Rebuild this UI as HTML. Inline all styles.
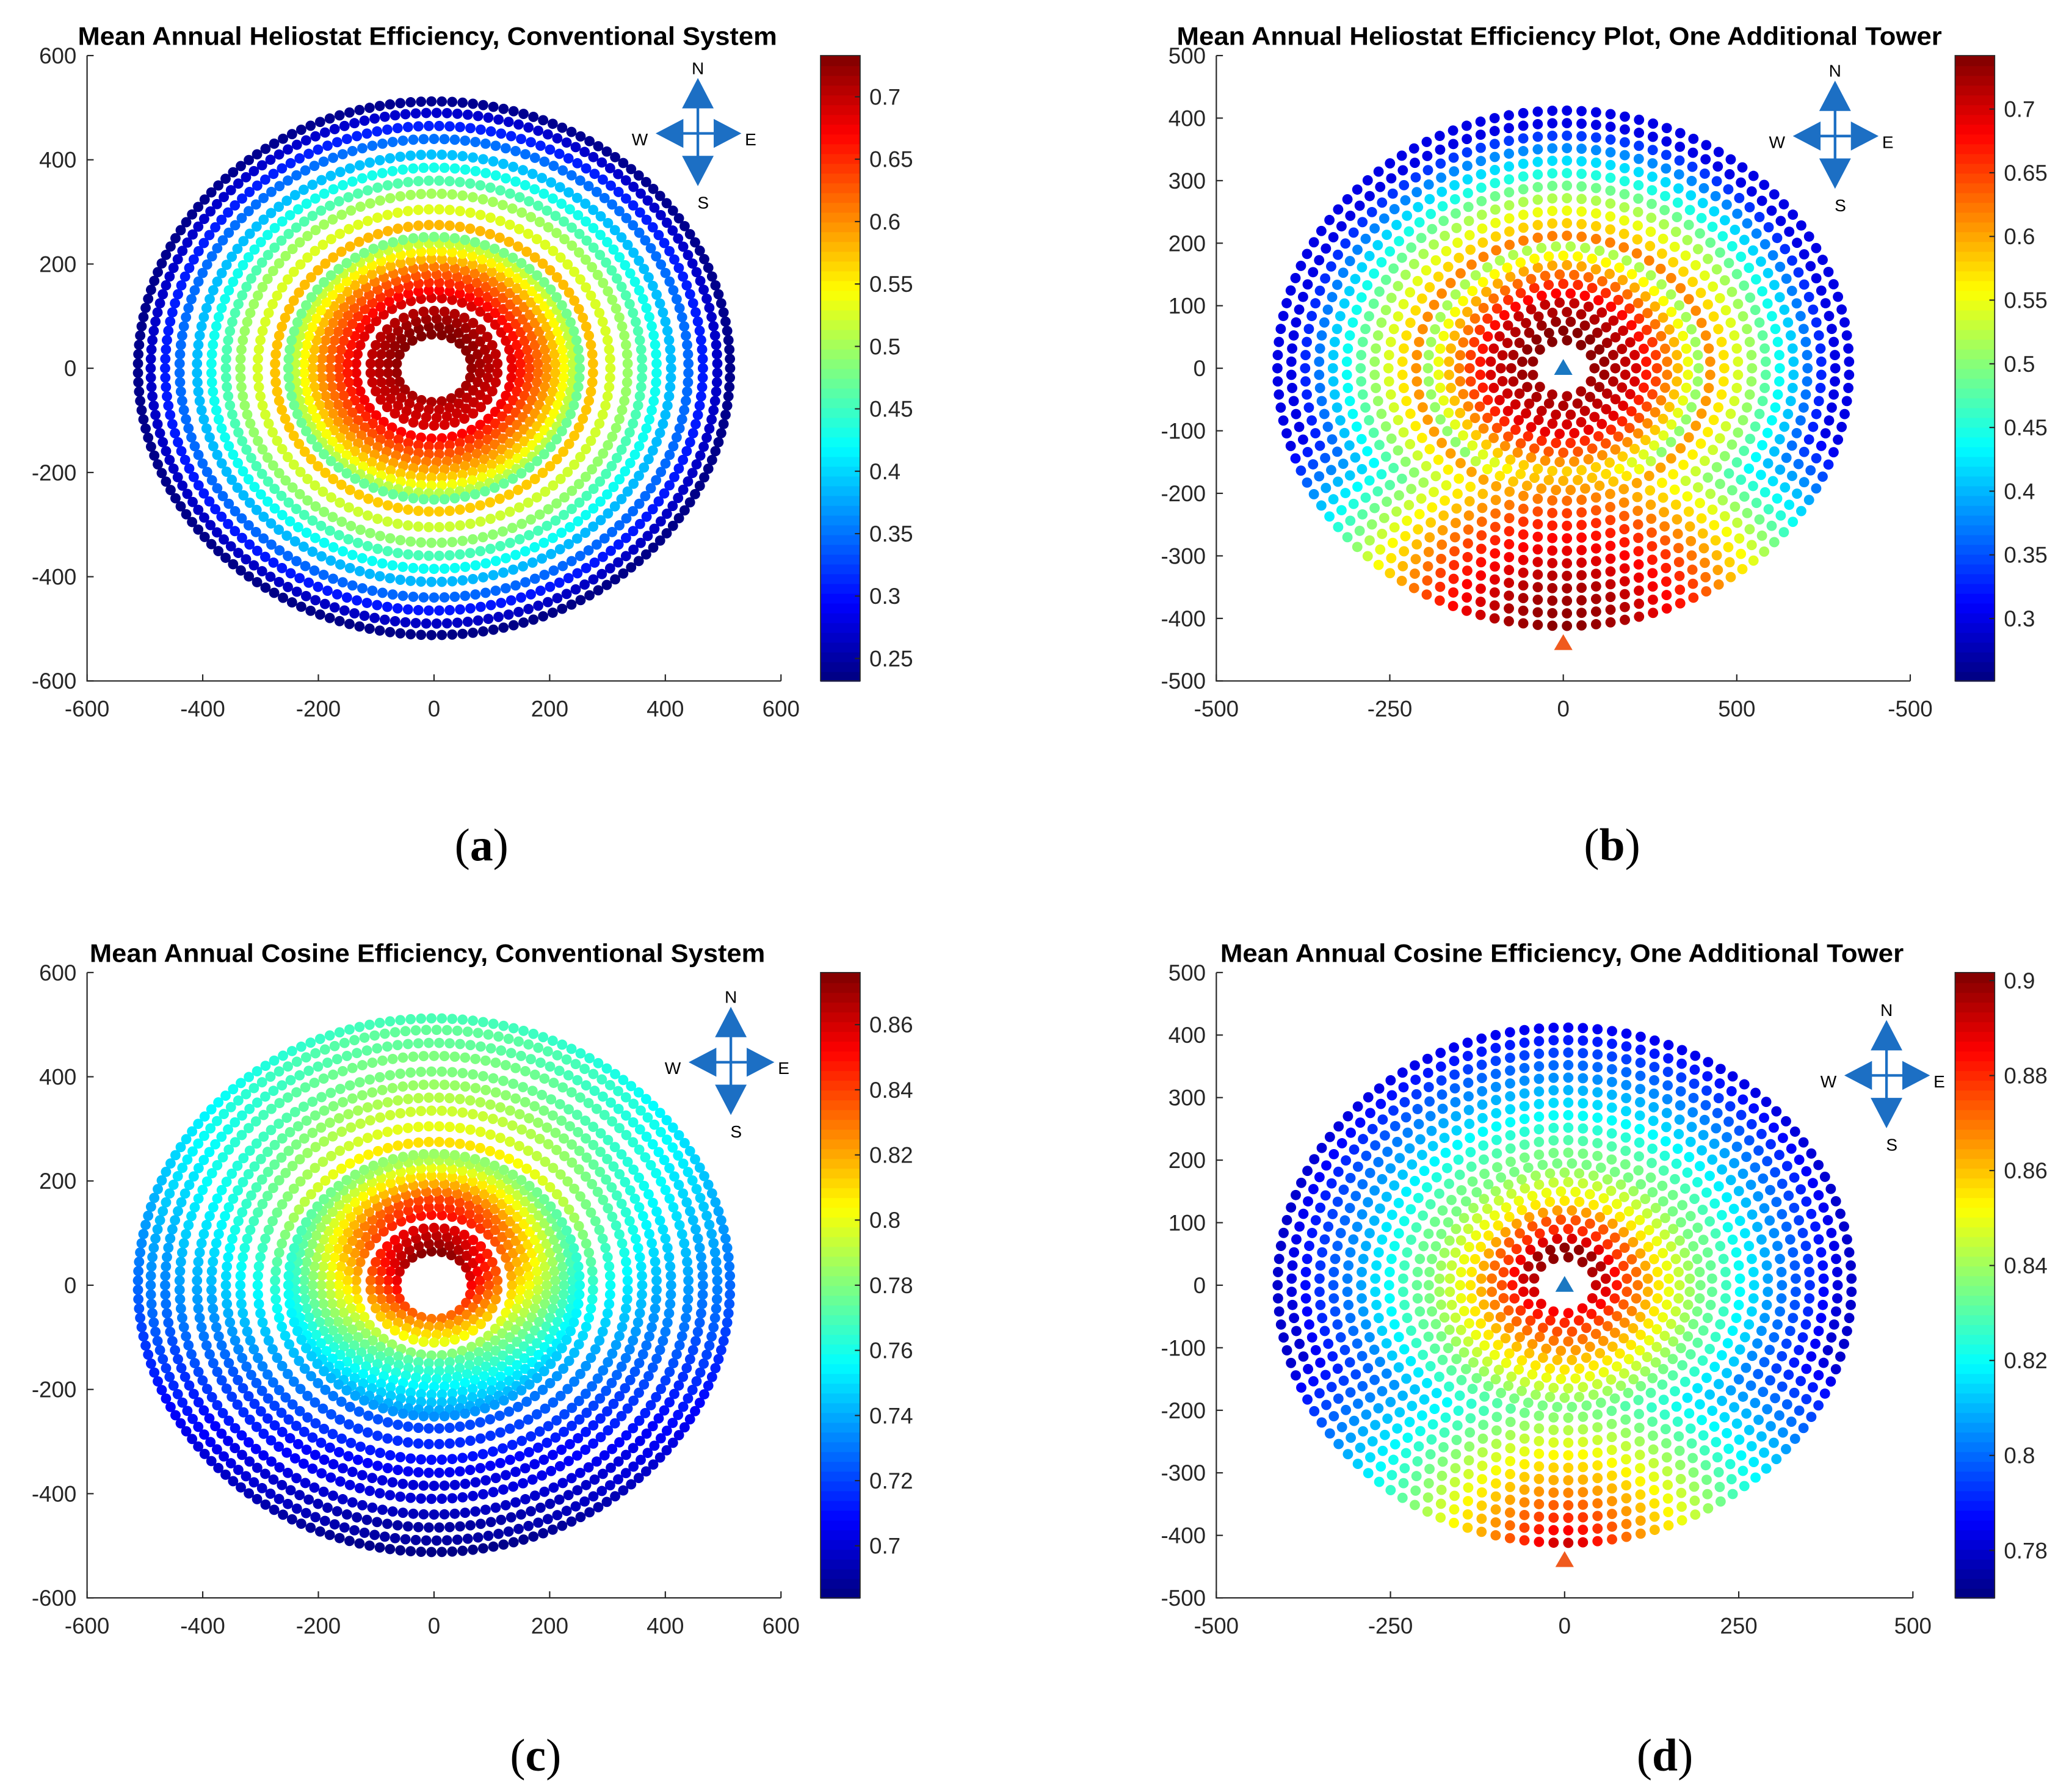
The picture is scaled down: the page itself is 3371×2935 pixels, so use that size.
<!DOCTYPE html>
<html><head><meta charset="utf-8"><style>
html,body{margin:0;padding:0;background:#fff;}
svg{display:block;}
</style></head>
<body>
<svg id="fig" xmlns="http://www.w3.org/2000/svg" width="3371" height="2935" viewBox="0 0 1560 1358" font-family="Liberation Sans, Arial, sans-serif"></svg>
<script>
// ---- Panel A data (heliostat efficiency, conventional) ----
const ringRadiiA = [65,80,95,110,135,150,165,180,195,210,225,240,252,275,305,335,360,385,410,440,465,490,512];
const ringValNorthA = [.735,.73,.72,.71,.69,.67,.65,.63,.61,.58,.55,.52,.48,.58,.53,.50,.46,.43,.39,.35,.31,.27,.24];
const ringValSouthA = [.71,.70,.695,.69,.67,.65,.63,.61,.59,.57,.54,.51,.47,.57,.52,.49,.455,.425,.385,.345,.305,.265,.235];
// ---- Panel B data (heliostat efficiency, additional tower) ----
const ringRadiiB = [45,60,75,90,105,120,135,150,165,180,195,212,232,252,272,292,312,332,352,372,392,412];
const ringValNorthB = [.74,.74,.73,.72,.71,.68,.66,.63,.60,.56,.52,.62,.58,.55,.52,.49,.45,.42,.38,.34,.30,.27];
const ringValSouthB = [.72,.72,.71,.70,.69,.66,.64,.61,.58,.54,.50,.60,.56,.53,.50,.47,.43,.40,.36,.32,.29,.26];
const southDistB = [0,100,200,300,400,500];
const southValB = [.745,.72,.66,.55,.42,.30];
// ---- Panel C data (cosine efficiency, conventional) ----
const ringValNorthC = [.875,.87,.865,.86,.85,.845,.84,.83,.82,.81,.80,.79,.785,.81,.80,.795,.79,.785,.78,.78,.775,.775,.77];
const ringValSouthC = [.83,.82,.81,.80,.78,.77,.765,.76,.755,.75,.745,.74,.735,.72,.715,.71,.705,.70,.70,.695,.69,.69,.685];
// ---- Panel D data (cosine efficiency, additional tower) ----
const ringValNorthD = [.90,.90,.89,.88,.875,.865,.855,.85,.845,.84,.835,.835,.83,.825,.82,.815,.81,.805,.80,.795,.79,.785];
const ringValSouthD = [.885,.88,.875,.87,.865,.86,.855,.85,.845,.84,.835,.83,.825,.815,.81,.80,.795,.79,.785,.78,.775,.77];
const southDistD = [0,100,200,300,400,500];
const southValD = [.90,.87,.845,.82,.80,.78];
// ---- tick labels ----
const xTicksA = [-600,-400,-200,0,200,400,600];
const yTicksA = [-600,-400,-200,0,200,400,600];
const xTickPosB = [-500,-250,0,250,500];
const xTickLabelsB = ["-500","-250","0","500","-500"];
const xTickLabelsD = ["-500","-250","0","250","500"];
const yTicksB = [-500,-400,-300,-200,-100,0,100,200,300,400,500];
const cbTicksA = [0.25,0.3,0.35,0.4,0.45,0.5,0.55,0.6,0.65,0.7];
const cbTicksB = [0.3,0.35,0.4,0.45,0.5,0.55,0.6,0.65,0.7];
const cbTicksC = [0.7,0.72,0.74,0.76,0.78,0.8,0.82,0.84,0.86];
const cbTicksD = [0.78,0.8,0.82,0.84,0.86,0.88,0.9];

const NS="http://www.w3.org/2000/svg";
const svg=document.getElementById('fig');
function mk(tag,attrs,parent){const e=document.createElementNS(NS,tag);for(const k in attrs)e.setAttribute(k,attrs[k]);(parent||svg).appendChild(e);return e;}
function interp(xs,ys,x){if(x<=xs[0])return ys[0];for(let i=1;i<xs.length;i++){if(x<=xs[i]){const t=(x-xs[i-1])/(xs[i]-xs[i-1]);return ys[i-1]+t*(ys[i]-ys[i-1]);}}return ys[ys.length-1];}
function cl(v){return Math.max(0,Math.min(1,v));}
function jet(t){t=cl(t);const r=cl(1.5-Math.abs(4*t-3)),g=cl(1.5-Math.abs(4*t-2)),b=cl(1.5-Math.abs(4*t-1));return `rgb(${Math.round(r*255)},${Math.round(g*255)},${Math.round(b*255)})`;}

function panel(c){
  const g=mk('g',{});
  
  
  const sx=v=>c.x0+(v-c.xmin)/(c.xmax-c.xmin)*(c.x1-c.x0);
  const sy=v=>c.y1-(v-c.ymin)/(c.ymax-c.ymin)*(c.y1-c.y0);
  const cv=v=>(v-c.cmin)/(c.cmax-c.cmin);
  const dg=mk('g',{},g);
  
  
  c.radii.forEach((r,i)=>{
    const n=Math.round(2*Math.PI*r/c.spacing);
    const off=(i%2)*Math.PI/n;
    for(let k=0;k<n;k++){
      const th=off+2*Math.PI*k/n;
      const x=r*Math.cos(th),y=r*Math.sin(th);
      let v=c.valS[i]+(c.valN[i]-c.valS[i])*(1+Math.sin(th))/2;
      if(c.sDist){const d=Math.hypot(x,y+440);v=Math.max(v,interp(c.sDist,c.sVal,d));}
      const e=mk('circle',{cx:sx(x).toFixed(2),cy:sy(y).toFixed(2),r:3.9,fill:jet(cv(v))},dg);
      
      
    }
  });
  const ax=mk('path',{d:`M${c.x0},${c.y0}V${c.y1}H${c.x1}`,stroke:'#262626','stroke-width':1,fill:'none'},g);
  
  c.xt.forEach((t,i)=>{const X=sx(t);mk('line',{x1:X,x2:X,y1:c.y1,y2:c.y1-5,stroke:'#262626'},g);
    const e=mk('text',{x:X,y:c.y1+27,'font-size':17,'text-anchor':'middle',fill:'#262626'},g);e.textContent=c.xl[i];
    });
  c.yt.forEach(t=>{const Y=sy(t);mk('line',{x1:c.x0,x2:c.x0+5,y1:Y,y2:Y,stroke:'#262626'},g);
    const e=mk('text',{x:c.x0-8,y:Y+6,'font-size':17,'text-anchor':'end',fill:'#262626'},g);e.textContent=String(t);
    });
  const ti=mk('text',{x:c.tx,y:c.y0-8,'font-size':19.5,'font-weight':'bold','text-anchor':'middle',fill:'#000'},g);ti.textContent=c.title;
  ti.setAttribute('textLength',c.tw);ti.setAttribute('lengthAdjust','spacingAndGlyphs');
  
  const cb=mk('g',{},g);
  const N=64,h=(c.y1-c.y0)/N;
  for(let k=0;k<N;k++){mk('rect',{x:c.cbx,y:c.y1-(k+1)*h,width:30,height:h+0.6,fill:jet((k+0.5)/N)},cb);}
  mk('rect',{x:c.cbx,y:c.y0,width:30,height:c.y1-c.y0,fill:'none',stroke:'#262626','stroke-width':0.8},cb);
  c.cbt.forEach(t=>{const Y=c.y1-(t-c.cmin)/(c.cmax-c.cmin)*(c.y1-c.y0);
    mk('line',{x1:c.cbx+30,x2:c.cbx+26,y1:Y,y2:Y,stroke:'#262626'},cb);
    const e=mk('text',{x:c.cbx+37,y:Y+6,'font-size':17,fill:'#262626'},cb);e.textContent=String(t);
    });
  const cp=mk('g',{fill:'#1c6fc4'},g);
  const [cx,cy]=c.comp;
  mk('path',{d:`M${cx},${cy-42}L${cx+12},${cy-19}L${cx-12},${cy-19}Z M${cx},${cy+40}L${cx+12},${cy+17}L${cx-12},${cy+17}Z M${cx-32},${cy}L${cx-11},${cy-11}L${cx-11},${cy+11}Z M${cx+33},${cy}L${cx+12},${cy-11}L${cx+12},${cy+11}Z`},cp);
  mk('path',{d:`M${cx},${cy-20}V${cy+18} M${cx-12},${cy}H${cx+12}`,stroke:'#1c6fc4','stroke-width':2,fill:'none'},cp);
  [['N',0,-50],['S',4,52],['W',-44,4],['E',40,4]].forEach(([l,dx,dy])=>{const e=mk('text',{x:cx+dx,y:cy+dy+5,'font-size':13,'text-anchor':'middle',fill:'#000'},cp);e.textContent=l;});
  if(c.sDist){
    const t1=mk('path',{d:`M${sx(0)},${sy(0)-7}L${sx(0)+7},${sy(0)+5}L${sx(0)-7},${sy(0)+5}Z`,fill:'#1a78c2'},g);
    
    const Y=sy(-440);
    const t2=mk('path',{d:`M${sx(0)},${Y-7}L${sx(0)+7},${Y+5}L${sx(0)-7},${Y+5}Z`,fill:'#f05a1e'},g);
    
  }
  const lb=mk('text',{x:c.lab[0],y:c.lab[1],'font-size':35,'text-anchor':'middle',fill:'#000',style:'font-family:"Liberation Serif",serif'},g);
  const p1=mk('tspan',{},lb);p1.textContent='(';
  const p2=mk('tspan',{'font-weight':'bold'},lb);p2.textContent=c.letter;
  const p3=mk('tspan',{},lb);p3.textContent=')';
  
}

panel({name:'panel-a',x0:66,x1:592,y0:42,y1:516,xmin:-600,xmax:600,ymin:-600,ymax:600,xt:xTicksA,xl:xTicksA.map(String),yt:yTicksA,
  radii:ringRadiiA,valN:ringValNorthA,valS:ringValSouthA,spacing:18,cmin:0.232,cmax:0.733,cbx:622,cbt:cbTicksA,
  title:'Mean Annual Heliostat Efficiency, Conventional System',tx:324,tw:530,comp:[529,101],lab:[365,652],letter:'a'});
panel({name:'panel-b',x0:922,x1:1448,y0:42,y1:516,xmin:-500,xmax:500,ymin:-500,ymax:500,xt:xTickPosB,xl:xTickLabelsB,yt:yTicksB,
  radii:ringRadiiB,valN:ringValNorthB,valS:ringValSouthB,spacing:21,sDist:southDistB,sVal:southValB,cmin:0.251,cmax:0.742,cbx:1482,cbt:cbTicksB,
  title:'Mean Annual Heliostat Efficiency Plot, One Additional Tower',tx:1182,tw:580,comp:[1391,103],lab:[1222,652],letter:'b'});
panel({name:'panel-c',x0:66,x1:592,y0:737,y1:1211,xmin:-600,xmax:600,ymin:-600,ymax:600,xt:xTicksA,xl:xTicksA.map(String),yt:yTicksA,
  radii:ringRadiiA,valN:ringValNorthC,valS:ringValSouthC,spacing:18,cmin:0.684,cmax:0.876,cbx:622,cbt:cbTicksC,
  title:'Mean Annual Cosine Efficiency, Conventional System',tx:324,tw:512,comp:[554,805],lab:[406,1342],letter:'c'});
panel({name:'panel-d',x0:922,x1:1450,y0:737,y1:1211,xmin:-500,xmax:500,ymin:-500,ymax:500,xt:xTickPosB,xl:xTickLabelsD,yt:yTicksB,
  radii:ringRadiiB,valN:ringValNorthD,valS:ringValSouthD,spacing:21,sDist:southDistD,sVal:southValD,cmin:0.77,cmax:0.9017,cbx:1482,cbt:cbTicksD,
  title:'Mean Annual Cosine Efficiency, One Additional Tower',tx:1184,tw:518,comp:[1430,815],lab:[1262,1342],letter:'d'});
</script>
</body></html>
